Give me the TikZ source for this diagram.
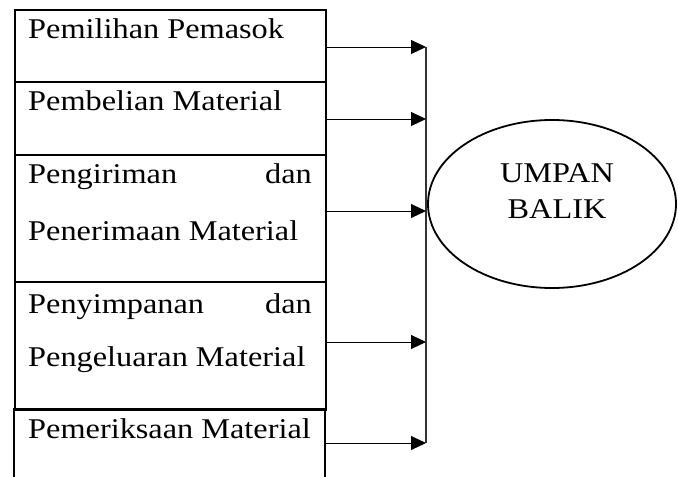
\documentclass[tikz,border=0pt]{standalone}
\usepackage{fontspec}
\setmainfont[FakeStretch=1.13]{Liberation Serif}
\usetikzlibrary{arrows.meta,shapes.geometric}
\begin{document}
\begin{tikzpicture}[x=1pt,y=-1pt,
  segbox/.style={draw, line width=2pt, inner sep=0pt, minimum width=311pt, anchor=north west},
  openbox/.style={inner sep=0pt, minimum width=311pt, anchor=north west},
  lbl/.style={inner sep=0pt, anchor=base west, font=\fontsize{28.6}{28.6}\selectfont},
  lblr/.style={inner sep=0pt, anchor=base east, font=\fontsize{28.6}{28.6}\selectfont},
  lblc/.style={inner sep=0pt, anchor=base, font=\fontsize{28.6}{28.6}\selectfont},
  conn/.style={line width=1pt, -{Triangle[length=15pt,width=14pt]}},
  bus/.style={line width=1.1pt, black!80},
  feedback/.style={draw, ellipse, line width=1.8pt, inner sep=0pt, minimum width=248pt, minimum height=168pt}]
\useasboundingbox (0,0) rectangle (678,477);

% stacked boxes
\node[segbox, minimum height=72pt] (b1) at (14,9) {};
\node[segbox, minimum height=73pt] (b2) at (14,81) {};
\node[segbox, minimum height=127pt] (b3) at (14,154) {};
\node[segbox, minimum height=128pt] (b4) at (14,281) {};
\node[openbox, minimum height=68pt] (b5) at (14,409) {};
\draw[line width=2pt, line cap=rect] (b5.south west) -- (b5.north west) -- (b5.north east) -- (b5.south east);

% texts
\node[lbl] (l1) at (28,38) {Pemilihan Pemasok};
\node[lbl] (l2) at (28,110) {Pembelian Material};
\node[lbl] (l3a) at (28,183) {Pengiriman};
\node[lblr] (l3b) at (312,183) {dan};
\node[lbl] (l3c) at (28,240) {Penerimaan Material};
\node[lbl] (l4a) at (28,313) {Penyimpanan};
\node[lblr] (l4b) at (312,313) {dan};
\node[lbl] (l4c) at (28,366) {Pengeluaran Material};
\node[lbl] (l5) at (28,438) {Pemeriksaan Material};

% bus points
\coordinate (t1) at (426,47);
\coordinate (t2) at (426,119);
\coordinate (t3) at (426,211);
\coordinate (t4) at (426,342);
\coordinate (t5) at (426,443);
\draw[bus] (t1) -- (t5);

\draw[conn] (b1.east |- t1) -- (t1);
\draw[conn] (b2.east |- t2) -- (t2);
\draw[conn] (b3.east |- t3) -- (t3);
\draw[conn] (b4.east |- t4) -- (t4);
\draw[conn] (b5.east |- t5) -- (t5);

% feedback ellipse
\node[feedback] (fb) at (552,204) {};
\node[lblc] (fb1) at (557,182) {UMPAN};
\node[lblc] (fb2) at (557,218) {BALIK};
\end{tikzpicture}
\end{document}
